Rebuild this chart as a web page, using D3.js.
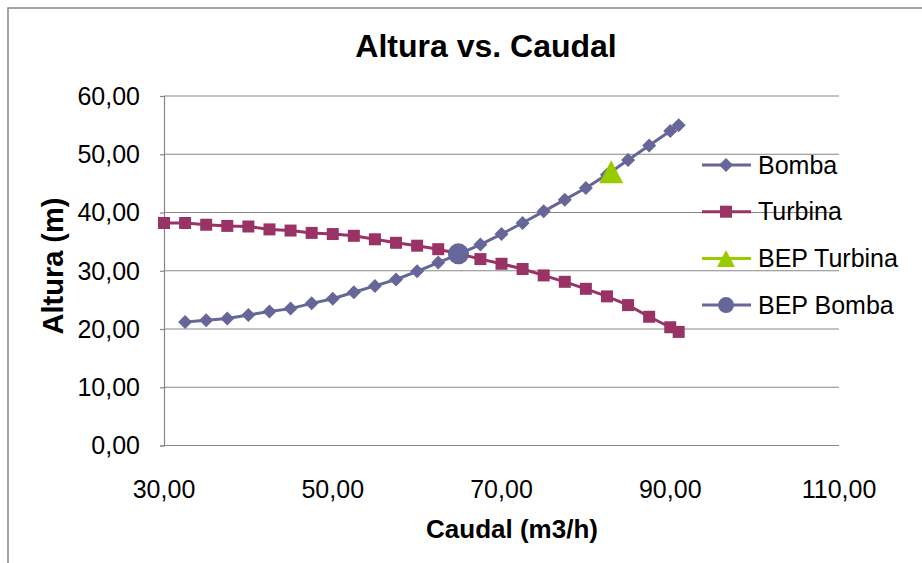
<!DOCTYPE html>
<html>
<head>
<meta charset="utf-8">
<script src="https://cdn.jsdelivr.net/npm/d3@7"></script>
<style>
  body { margin: 0; background: #fff; }
  text { font-family: "Liberation Sans", Arial, sans-serif; fill: #000; }
</style>
</head>
<body>
<div id="chart"></div>
<script>
// Data
const bombaQ = [32.5, 35, 37.5, 40, 42.5, 45, 47.5, 50, 52.5, 55, 57.5, 60, 62.5, 65, 67.5, 70, 72.5, 75, 77.5, 80, 82.5, 85, 87.5, 90, 91];
const bombaH = [21.2, 21.5, 21.8, 22.4, 23.0, 23.5, 24.4, 25.2, 26.3, 27.4, 28.5, 29.9, 31.4, 32.9, 34.5, 36.3, 38.2, 40.2, 42.2, 44.2, 46.5, 49.0, 51.5, 54.0, 55.0];
const turbinaQ = [30, 32.5, 35, 37.5, 40, 42.5, 45, 47.5, 50, 52.5, 55, 57.5, 60, 62.5, 65, 67.5, 70, 72.5, 75, 77.5, 80, 82.5, 85, 87.5, 90, 91];
const turbinaH = [38.2, 38.2, 37.9, 37.7, 37.6, 37.1, 36.9, 36.5, 36.3, 36.0, 35.4, 34.8, 34.3, 33.7, 32.9, 32.0, 31.2, 30.3, 29.2, 28.1, 26.9, 25.6, 24.1, 22.1, 20.3, 19.5];
const bepTurbina = [{ q: 83.0, h: 47.0 }];
const bepBomba = [{ q: 64.9, h: 32.9 }];
const xTicks = [30, 50, 70, 90, 110];
const yTicks = [0, 10, 20, 30, 40, 50, 60];
const legendNames = ["Bomba", "Turbina", "BEP Turbina", "BEP Bomba"];

const width = 922, height = 563;
const margin = { top: 96, right: 83, bottom: 117.5, left: 164 };

const fmt = v => d3.format(".2f")(v).replace(".", ",");

const x = d3.scaleLinear().domain([30, 110]).range([margin.left, width - margin.right]);
const y = d3.scaleLinear().domain([0, 60]).range([height - margin.bottom, margin.top]);

const svg = d3.select("#chart").append("svg")
    .attr("width", width)
    .attr("height", height);

// chart frame (runs off the right and bottom edges)
svg.append("rect")
    .attr("x", 8).attr("y", 8)
    .attr("width", 960).attr("height", 620)
    .attr("fill", "none")
    .attr("stroke", "#878787")
    .attr("stroke-width", 1.5);

// gridlines
svg.append("g")
    .selectAll("line")
    .data(yTicks)
    .join("line")
    .attr("x1", margin.left).attr("x2", width - margin.right)
    .attr("y1", d => y(d)).attr("y2", d => y(d))
    .attr("stroke", "#878787")
    .attr("stroke-width", 1.2);

// y axis
svg.append("g")
    .attr("transform", `translate(${margin.left},0)`)
    .call(d3.axisLeft(y).tickValues(yTicks).tickSize(4).tickFormat(""))
    .call(g => g.selectAll("line, path").attr("stroke", "#878787").attr("stroke-width", 1.2));

svg.append("g")
    .selectAll("text")
    .data(yTicks)
    .join("text")
    .attr("x", 140)
    .attr("y", d => y(d))
    .attr("dy", "0.35em")
    .attr("text-anchor", "end")
    .attr("font-size", 25)
    .text(fmt);

// x axis labels (no tick marks in the reference)
svg.append("g")
    .selectAll("text")
    .data(xTicks)
    .join("text")
    .attr("x", d => x(d))
    .attr("y", 498)
    .attr("text-anchor", "middle")
    .attr("font-size", 25)
    .text(fmt);

// titles
svg.append("text")
    .attr("x", 486).attr("y", 57)
    .attr("text-anchor", "middle")
    .attr("font-size", 32)
    .attr("font-weight", "bold")
    .text("Altura vs. Caudal");

svg.append("text")
    .attr("x", 512).attr("y", 538)
    .attr("text-anchor", "middle")
    .attr("font-size", 26)
    .attr("font-weight", "bold")
    .text("Caudal (m3/h)");

svg.append("text")
    .attr("transform", "translate(63,266) rotate(-90)")
    .attr("text-anchor", "middle")
    .attr("font-size", 29)
    .attr("font-weight", "bold")
    .text("Altura (m)");

// marker shapes
const diamond = "M0,-7L7,0L0,7L-7,0Z";
const square = "M-6,-6H6V6H-6Z";
const triangle = "M0,-11.5L12,11.5H-12Z";

const bomba = bombaQ.map((q, i) => ({ q: q, h: bombaH[i] }));
const turbina = turbinaQ.map((q, i) => ({ q: q, h: turbinaH[i] }));

const line = d3.line().x(d => x(d.q)).y(d => y(d.h));

// Turbina series
svg.append("path")
    .datum(turbina)
    .attr("d", line)
    .attr("fill", "none")
    .attr("stroke", "#993366")
    .attr("stroke-width", 3);
svg.append("g")
    .selectAll("path")
    .data(turbina)
    .join("path")
    .attr("transform", d => `translate(${x(d.q)},${y(d.h)})`)
    .attr("d", square)
    .attr("fill", "#993366");

// Bomba series
svg.append("path")
    .datum(bomba)
    .attr("d", line)
    .attr("fill", "none")
    .attr("stroke", "#666699")
    .attr("stroke-width", 3);
svg.append("g")
    .selectAll("path")
    .data(bomba)
    .join("path")
    .attr("transform", d => `translate(${x(d.q)},${y(d.h)})`)
    .attr("d", diamond)
    .attr("fill", "#666699");

// BEP points
svg.append("g")
    .selectAll("path")
    .data(bepTurbina)
    .join("path")
    .attr("transform", d => `translate(${x(d.q)},${y(d.h)})`)
    .attr("d", triangle)
    .attr("fill", "#99cc00");

svg.append("g")
    .selectAll("circle")
    .data(bepBomba)
    .join("circle")
    .attr("cx", d => x(d.q))
    .attr("cy", d => y(d.h))
    .attr("r", 10.5)
    .attr("fill", "#666699");

// legend
const legendColors = ["#666699", "#993366", "#99cc00", "#666699"];
const legendShapes = [diamond, square, "M0,-8.5L9,8.5H-9Z", null];
const legend = svg.append("g");
legendNames.forEach((name, i) => {
    const ly = 165 + i * 46.7;
    legend.append("line")
        .attr("x1", 702).attr("x2", 751)
        .attr("y1", ly).attr("y2", ly)
        .attr("stroke", legendColors[i])
        .attr("stroke-width", 3);
    if (legendShapes[i]) {
        legend.append("path")
            .attr("transform", `translate(726,${ly})`)
            .attr("d", legendShapes[i])
            .attr("fill", legendColors[i]);
    } else {
        legend.append("circle")
            .attr("cx", 726).attr("cy", ly).attr("r", 8)
            .attr("fill", legendColors[i]);
    }
    legend.append("text")
        .attr("x", 758).attr("y", ly)
        .attr("dy", "0.35em")
        .attr("font-size", 25)
        .text(name);
});
</script>
</body>
</html>
